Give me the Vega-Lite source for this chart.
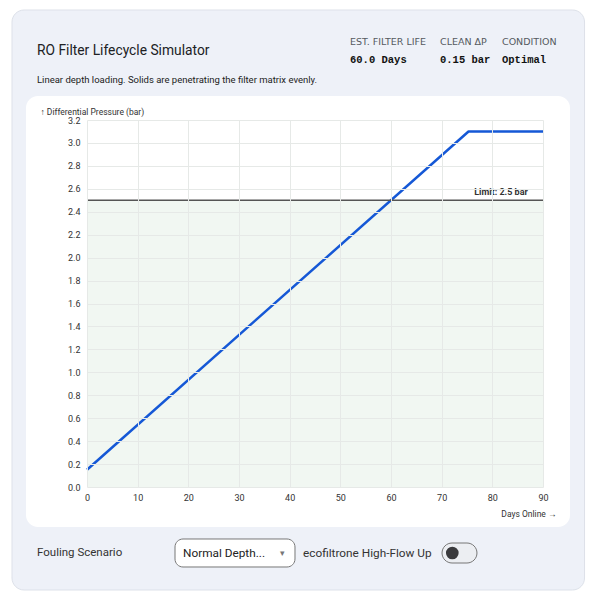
{
  "$schema": "https://vega.github.io/schema/vega-lite/v6.json",
  "width": 456,
  "height": 367,
  "autosize": {"type": "none"},
  "padding": {"left": 87, "top": 120, "right": 55, "bottom": 107},
  "background": "white",
  "data": {"values": [{}]},
  "config": {
    "view": {"stroke": null},
    "font": "Roboto",
    "axis": {
      "zindex": 1,
      "grid": true,
      "gridColor": "#e6e9e7",
      "gridWidth": 1,
      "domain": false,
      "ticks": false,
      "labelFlush": false,
      "labelFontSize": 9,
      "labelColor": "#333333",
      "labelFont": "Roboto",
      "titleFont": "Roboto",
      "titleFontWeight": "normal",
      "titleFontSize": 8.5,
      "titleColor": "#333333"
    },
    "axisX": {"labelPadding": 6, "titleX": 469, "titleY": 26, "titleAlign": "right", "titleBaseline": "middle"},
    "axisY": {"labelPadding": 7, "titleAngle": 0, "titleX": -47, "titleY": -9, "titleAlign": "left", "titleBaseline": "middle"}
  },
  "datasets": {
    "pressure": [
      {"day": 0, "dp": 0.15},
      {"day": 75.3, "dp": 3.1},
      {"day": 90, "dp": 3.1}
    ]
  },
  "layer": [
    {
      "mark": {"type": "rect", "fill": "#eef1f8", "stroke": "#dde1e9", "strokeWidth": 1, "cornerRadius": 12, "clip": false},
      "encoding": {
        "x": {"datum": -14.8, "type": "quantitative", "scale": {"domain": [0, 90], "nice": false}, "axis": {"zindex": 1, "grid": true, "labelFlush": false, "values": [0, 10, 20, 30, 40, 50, 60, 70, 80, 90], "title": "Days Online →"}},
        "x2": {"datum": 98.2},
        "y": {"datum": 4.159, "type": "quantitative", "scale": {"domain": [0, 3.2], "nice": false}, "axis": {"zindex": 1, "grid": true, "labelFlush": false, "values": [0, 0.2, 0.4, 0.6, 0.8, 1.0, 1.2, 1.4, 1.6, 1.8, 2.0, 2.2, 2.4, 2.6, 2.8, 3.0, 3.2], "format": ".1f", "title": "↑ Differential Pressure (bar)"}},
        "y2": {"datum": -0.898}
      }
    },
    {
      "mark": {"type": "rect", "fill": "white", "cornerRadius": 12, "clip": false},
      "encoding": {
        "x": {"datum": -12.04, "type": "quantitative", "scale": {"domain": [0, 90], "nice": false}, "axis": {"zindex": 1, "grid": true, "labelFlush": false, "values": [0, 10, 20, 30, 40, 50, 60, 70, 80, 90], "title": "Days Online →"}},
        "x2": {"datum": 95.33},
        "y": {"datum": 3.409, "type": "quantitative", "scale": {"domain": [0, 3.2], "nice": false}, "axis": {"zindex": 1, "grid": true, "labelFlush": false, "values": [0, 0.2, 0.4, 0.6, 0.8, 1.0, 1.2, 1.4, 1.6, 1.8, 2.0, 2.2, 2.4, 2.6, 2.8, 3.0, 3.2], "format": ".1f", "title": "↑ Differential Pressure (bar)"}},
        "y2": {"datum": -0.349}
      }
    },
    {
      "mark": {"type": "rect", "fill": "#f1f7f2"},
      "encoding": {
        "x": {"datum": 0, "type": "quantitative", "scale": {"domain": [0, 90], "nice": false}, "axis": {"zindex": 1, "grid": true, "labelFlush": false, "values": [0, 10, 20, 30, 40, 50, 60, 70, 80, 90], "title": "Days Online →"}},
        "x2": {"datum": 90},
        "y": {"datum": 0, "type": "quantitative", "scale": {"domain": [0, 3.2], "nice": false}, "axis": {"zindex": 1, "grid": true, "labelFlush": false, "values": [0, 0.2, 0.4, 0.6, 0.8, 1.0, 1.2, 1.4, 1.6, 1.8, 2.0, 2.2, 2.4, 2.6, 2.8, 3.0, 3.2], "format": ".1f", "title": "↑ Differential Pressure (bar)"}},
        "y2": {"datum": 2.5}
      }
    },
    {
      "data": {"name": "pressure"},
      "mark": {"type": "line", "color": "#1558d6", "strokeWidth": 2.5, "strokeJoin": "round"},
      "encoding": {
        "x": {"field": "day", "type": "quantitative", "scale": {"domain": [0, 90], "nice": false}, "axis": {"zindex": 1, "grid": true, "labelFlush": false, "values": [0, 10, 20, 30, 40, 50, 60, 70, 80, 90], "title": "Days Online →"}},
        "y": {"field": "dp", "type": "quantitative", "scale": {"domain": [0, 3.2], "nice": false}, "axis": {"zindex": 1, "grid": true, "labelFlush": false, "values": [0, 0.2, 0.4, 0.6, 0.8, 1.0, 1.2, 1.4, 1.6, 1.8, 2.0, 2.2, 2.4, 2.6, 2.8, 3.0, 3.2], "format": ".1f", "title": "↑ Differential Pressure (bar)"}}
      }
    },
    {
      "mark": {"type": "rule", "color": "#555555", "strokeWidth": 1.5},
      "encoding": {
        "x": {"datum": 0, "type": "quantitative", "scale": {"domain": [0, 90], "nice": false}, "axis": {"zindex": 1, "grid": true, "labelFlush": false, "values": [0, 10, 20, 30, 40, 50, 60, 70, 80, 90], "title": "Days Online →"}},
        "x2": {"datum": 90},
        "y": {"datum": 2.5, "type": "quantitative", "scale": {"domain": [0, 3.2], "nice": false}, "axis": {"zindex": 1, "grid": true, "labelFlush": false, "values": [0, 0.2, 0.4, 0.6, 0.8, 1.0, 1.2, 1.4, 1.6, 1.8, 2.0, 2.2, 2.4, 2.6, 2.8, 3.0, 3.2], "format": ".1f", "title": "↑ Differential Pressure (bar)"}}
      }
    },
    {
      "mark": {"type": "text", "text": "Limit: 2.5 bar", "align": "right", "baseline": "bottom", "dy": -3, "fontSize": 9, "fontWeight": "bold", "color": "#333333"},
      "encoding": {
        "x": {"datum": 87, "type": "quantitative", "scale": {"domain": [0, 90], "nice": false}, "axis": {"zindex": 1, "grid": true, "labelFlush": false, "values": [0, 10, 20, 30, 40, 50, 60, 70, 80, 90], "title": "Days Online →"}},
        "y": {"datum": 2.5, "type": "quantitative", "scale": {"domain": [0, 3.2], "nice": false}, "axis": {"zindex": 1, "grid": true, "labelFlush": false, "values": [0, 0.2, 0.4, 0.6, 0.8, 1.0, 1.2, 1.4, 1.6, 1.8, 2.0, 2.2, 2.4, 2.6, 2.8, 3.0, 3.2], "format": ".1f", "title": "↑ Differential Pressure (bar)"}}
      }
    },
    {
      "mark": {"type": "text", "text": "RO Filter Lifecycle Simulator", "align": "left", "baseline": "middle", "fontSize": 13.8, "color": "#202124"},
      "encoding": {
        "x": {"datum": -9.87, "type": "quantitative", "scale": {"domain": [0, 90], "nice": false}, "axis": {"zindex": 1, "grid": true, "labelFlush": false, "values": [0, 10, 20, 30, 40, 50, 60, 70, 80, 90], "title": "Days Online →"}},
        "y": {"datum": 3.80, "type": "quantitative", "scale": {"domain": [0, 3.2], "nice": false}, "axis": {"zindex": 1, "grid": true, "labelFlush": false, "values": [0, 0.2, 0.4, 0.6, 0.8, 1.0, 1.2, 1.4, 1.6, 1.8, 2.0, 2.2, 2.4, 2.6, 2.8, 3.0, 3.2], "format": ".1f", "title": "↑ Differential Pressure (bar)"}}
      }
    },
    {
      "mark": {"type": "text", "text": "Linear depth loading. Solids are penetrating the filter matrix evenly.", "align": "left", "baseline": "middle", "fontSize": 9.5, "color": "#222222"},
      "encoding": {
        "x": {"datum": -9.87, "type": "quantitative", "scale": {"domain": [0, 90], "nice": false}, "axis": {"zindex": 1, "grid": true, "labelFlush": false, "values": [0, 10, 20, 30, 40, 50, 60, 70, 80, 90], "title": "Days Online →"}},
        "y": {"datum": 3.549, "type": "quantitative", "scale": {"domain": [0, 3.2], "nice": false}, "axis": {"zindex": 1, "grid": true, "labelFlush": false, "values": [0, 0.2, 0.4, 0.6, 0.8, 1.0, 1.2, 1.4, 1.6, 1.8, 2.0, 2.2, 2.4, 2.6, 2.8, 3.0, 3.2], "format": ".1f", "title": "↑ Differential Pressure (bar)"}}
      }
    },
    {
      "mark": {"type": "text", "text": "EST. FILTER LIFE", "align": "left", "baseline": "middle", "fontSize": 9.5, "font": "DejaVu Sans", "color": "#555a60"},
      "encoding": {
        "x": {"datum": 51.91, "type": "quantitative", "scale": {"domain": [0, 90], "nice": false}, "axis": {"zindex": 1, "grid": true, "labelFlush": false, "values": [0, 10, 20, 30, 40, 50, 60, 70, 80, 90], "title": "Days Online →"}},
        "y": {"datum": 3.880, "type": "quantitative", "scale": {"domain": [0, 3.2], "nice": false}, "axis": {"zindex": 1, "grid": true, "labelFlush": false, "values": [0, 0.2, 0.4, 0.6, 0.8, 1.0, 1.2, 1.4, 1.6, 1.8, 2.0, 2.2, 2.4, 2.6, 2.8, 3.0, 3.2], "format": ".1f", "title": "↑ Differential Pressure (bar)"}}
      }
    },
    {
      "mark": {"type": "text", "text": "CLEAN ΔP", "align": "left", "baseline": "middle", "fontSize": 9.5, "font": "DejaVu Sans", "color": "#555a60"},
      "encoding": {
        "x": {"datum": 69.67, "type": "quantitative", "scale": {"domain": [0, 90], "nice": false}, "axis": {"zindex": 1, "grid": true, "labelFlush": false, "values": [0, 10, 20, 30, 40, 50, 60, 70, 80, 90], "title": "Days Online →"}},
        "y": {"datum": 3.880, "type": "quantitative", "scale": {"domain": [0, 3.2], "nice": false}, "axis": {"zindex": 1, "grid": true, "labelFlush": false, "values": [0, 0.2, 0.4, 0.6, 0.8, 1.0, 1.2, 1.4, 1.6, 1.8, 2.0, 2.2, 2.4, 2.6, 2.8, 3.0, 3.2], "format": ".1f", "title": "↑ Differential Pressure (bar)"}}
      }
    },
    {
      "mark": {"type": "text", "text": "CONDITION", "align": "left", "baseline": "middle", "fontSize": 9.5, "font": "DejaVu Sans", "color": "#555a60"},
      "encoding": {
        "x": {"datum": 81.91, "type": "quantitative", "scale": {"domain": [0, 90], "nice": false}, "axis": {"zindex": 1, "grid": true, "labelFlush": false, "values": [0, 10, 20, 30, 40, 50, 60, 70, 80, 90], "title": "Days Online →"}},
        "y": {"datum": 3.880, "type": "quantitative", "scale": {"domain": [0, 3.2], "nice": false}, "axis": {"zindex": 1, "grid": true, "labelFlush": false, "values": [0, 0.2, 0.4, 0.6, 0.8, 1.0, 1.2, 1.4, 1.6, 1.8, 2.0, 2.2, 2.4, 2.6, 2.8, 3.0, 3.2], "format": ".1f", "title": "↑ Differential Pressure (bar)"}}
      }
    },
    {
      "mark": {"type": "text", "text": "60.0 Days", "align": "left", "baseline": "middle", "fontSize": 10.5, "font": "Liberation Mono", "fontWeight": "bold", "color": "#111111"},
      "encoding": {
        "x": {"datum": 51.91, "type": "quantitative", "scale": {"domain": [0, 90], "nice": false}, "axis": {"zindex": 1, "grid": true, "labelFlush": false, "values": [0, 10, 20, 30, 40, 50, 60, 70, 80, 90], "title": "Days Online →"}},
        "y": {"datum": 3.723, "type": "quantitative", "scale": {"domain": [0, 3.2], "nice": false}, "axis": {"zindex": 1, "grid": true, "labelFlush": false, "values": [0, 0.2, 0.4, 0.6, 0.8, 1.0, 1.2, 1.4, 1.6, 1.8, 2.0, 2.2, 2.4, 2.6, 2.8, 3.0, 3.2], "format": ".1f", "title": "↑ Differential Pressure (bar)"}}
      }
    },
    {
      "mark": {"type": "text", "text": "0.15 bar", "align": "left", "baseline": "middle", "fontSize": 10.5, "font": "Liberation Mono", "fontWeight": "bold", "color": "#111111"},
      "encoding": {
        "x": {"datum": 69.67, "type": "quantitative", "scale": {"domain": [0, 90], "nice": false}, "axis": {"zindex": 1, "grid": true, "labelFlush": false, "values": [0, 10, 20, 30, 40, 50, 60, 70, 80, 90], "title": "Days Online →"}},
        "y": {"datum": 3.723, "type": "quantitative", "scale": {"domain": [0, 3.2], "nice": false}, "axis": {"zindex": 1, "grid": true, "labelFlush": false, "values": [0, 0.2, 0.4, 0.6, 0.8, 1.0, 1.2, 1.4, 1.6, 1.8, 2.0, 2.2, 2.4, 2.6, 2.8, 3.0, 3.2], "format": ".1f", "title": "↑ Differential Pressure (bar)"}}
      }
    },
    {
      "mark": {"type": "text", "text": "Optimal", "align": "left", "baseline": "middle", "fontSize": 10.5, "font": "Liberation Mono", "fontWeight": "bold", "color": "#111111"},
      "encoding": {
        "x": {"datum": 81.91, "type": "quantitative", "scale": {"domain": [0, 90], "nice": false}, "axis": {"zindex": 1, "grid": true, "labelFlush": false, "values": [0, 10, 20, 30, 40, 50, 60, 70, 80, 90], "title": "Days Online →"}},
        "y": {"datum": 3.723, "type": "quantitative", "scale": {"domain": [0, 3.2], "nice": false}, "axis": {"zindex": 1, "grid": true, "labelFlush": false, "values": [0, 0.2, 0.4, 0.6, 0.8, 1.0, 1.2, 1.4, 1.6, 1.8, 2.0, 2.2, 2.4, 2.6, 2.8, 3.0, 3.2], "format": ".1f", "title": "↑ Differential Pressure (bar)"}}
      }
    },
    {
      "mark": {"type": "text", "text": "Fouling Scenario", "align": "left", "baseline": "middle", "fontSize": 11.5, "color": "#333333"},
      "encoding": {
        "x": {"datum": -9.87, "type": "quantitative", "scale": {"domain": [0, 90], "nice": false}, "axis": {"zindex": 1, "grid": true, "labelFlush": false, "values": [0, 10, 20, 30, 40, 50, 60, 70, 80, 90], "title": "Days Online →"}},
        "y": {"datum": -0.5755, "type": "quantitative", "scale": {"domain": [0, 3.2], "nice": false}, "axis": {"zindex": 1, "grid": true, "labelFlush": false, "values": [0, 0.2, 0.4, 0.6, 0.8, 1.0, 1.2, 1.4, 1.6, 1.8, 2.0, 2.2, 2.4, 2.6, 2.8, 3.0, 3.2], "format": ".1f", "title": "↑ Differential Pressure (bar)"}}
      }
    },
    {
      "mark": {"type": "rect", "fill": "white", "stroke": "#777777", "strokeWidth": 1, "cornerRadius": 8},
      "encoding": {
        "x": {"datum": 17.37, "type": "quantitative", "scale": {"domain": [0, 90], "nice": false}, "axis": {"zindex": 1, "grid": true, "labelFlush": false, "values": [0, 10, 20, 30, 40, 50, 60, 70, 80, 90], "title": "Days Online →"}},
        "x2": {"datum": 41.05},
        "y": {"datum": -0.4534, "type": "quantitative", "scale": {"domain": [0, 3.2], "nice": false}, "axis": {"zindex": 1, "grid": true, "labelFlush": false, "values": [0, 0.2, 0.4, 0.6, 0.8, 1.0, 1.2, 1.4, 1.6, 1.8, 2.0, 2.2, 2.4, 2.6, 2.8, 3.0, 3.2], "format": ".1f", "title": "↑ Differential Pressure (bar)"}},
        "y2": {"datum": -0.6975}
      }
    },
    {
      "mark": {"type": "text", "text": "Normal Depth...", "align": "left", "baseline": "middle", "fontSize": 11.8, "color": "#222222"},
      "encoding": {
        "x": {"datum": 18.95, "type": "quantitative", "scale": {"domain": [0, 90], "nice": false}, "axis": {"zindex": 1, "grid": true, "labelFlush": false, "values": [0, 10, 20, 30, 40, 50, 60, 70, 80, 90], "title": "Days Online →"}},
        "y": {"datum": -0.5755, "type": "quantitative", "scale": {"domain": [0, 3.2], "nice": false}, "axis": {"zindex": 1, "grid": true, "labelFlush": false, "values": [0, 0.2, 0.4, 0.6, 0.8, 1.0, 1.2, 1.4, 1.6, 1.8, 2.0, 2.2, 2.4, 2.6, 2.8, 3.0, 3.2], "format": ".1f", "title": "↑ Differential Pressure (bar)"}}
      }
    },
    {
      "mark": {"type": "text", "text": "▾", "align": "center", "baseline": "middle", "fontSize": 9, "color": "#777777"},
      "encoding": {
        "x": {"datum": 38.68, "type": "quantitative", "scale": {"domain": [0, 90], "nice": false}, "axis": {"zindex": 1, "grid": true, "labelFlush": false, "values": [0, 10, 20, 30, 40, 50, 60, 70, 80, 90], "title": "Days Online →"}},
        "y": {"datum": -0.5755, "type": "quantitative", "scale": {"domain": [0, 3.2], "nice": false}, "axis": {"zindex": 1, "grid": true, "labelFlush": false, "values": [0, 0.2, 0.4, 0.6, 0.8, 1.0, 1.2, 1.4, 1.6, 1.8, 2.0, 2.2, 2.4, 2.6, 2.8, 3.0, 3.2], "format": ".1f", "title": "↑ Differential Pressure (bar)"}}
      }
    },
    {
      "mark": {"type": "text", "text": "ecofiltrone High-Flow Up", "align": "left", "baseline": "middle", "fontSize": 11.8, "color": "#333333"},
      "encoding": {
        "x": {"datum": 42.63, "type": "quantitative", "scale": {"domain": [0, 90], "nice": false}, "axis": {"zindex": 1, "grid": true, "labelFlush": false, "values": [0, 10, 20, 30, 40, 50, 60, 70, 80, 90], "title": "Days Online →"}},
        "y": {"datum": -0.5755, "type": "quantitative", "scale": {"domain": [0, 3.2], "nice": false}, "axis": {"zindex": 1, "grid": true, "labelFlush": false, "values": [0, 0.2, 0.4, 0.6, 0.8, 1.0, 1.2, 1.4, 1.6, 1.8, 2.0, 2.2, 2.4, 2.6, 2.8, 3.0, 3.2], "format": ".1f", "title": "↑ Differential Pressure (bar)"}}
      }
    },
    {
      "mark": {"type": "rect", "fill": "#eceef2", "stroke": "#777777", "strokeWidth": 1, "cornerRadius": 10},
      "encoding": {
        "x": {"datum": 70.07, "type": "quantitative", "scale": {"domain": [0, 90], "nice": false}, "axis": {"zindex": 1, "grid": true, "labelFlush": false, "values": [0, 10, 20, 30, 40, 50, 60, 70, 80, 90], "title": "Days Online →"}},
        "x2": {"datum": 76.97},
        "y": {"datum": -0.4883, "type": "quantitative", "scale": {"domain": [0, 3.2], "nice": false}, "axis": {"zindex": 1, "grid": true, "labelFlush": false, "values": [0, 0.2, 0.4, 0.6, 0.8, 1.0, 1.2, 1.4, 1.6, 1.8, 2.0, 2.2, 2.4, 2.6, 2.8, 3.0, 3.2], "format": ".1f", "title": "↑ Differential Pressure (bar)"}},
        "y2": {"datum": -0.6627}
      }
    },
    {
      "mark": {"type": "point", "shape": "circle", "filled": true, "size": 160, "color": "#3a3a3d", "opacity": 1},
      "encoding": {
        "x": {"datum": 72.1, "type": "quantitative", "scale": {"domain": [0, 90], "nice": false}, "axis": {"zindex": 1, "grid": true, "labelFlush": false, "values": [0, 10, 20, 30, 40, 50, 60, 70, 80, 90], "title": "Days Online →"}},
        "y": {"datum": -0.5755, "type": "quantitative", "scale": {"domain": [0, 3.2], "nice": false}, "axis": {"zindex": 1, "grid": true, "labelFlush": false, "values": [0, 0.2, 0.4, 0.6, 0.8, 1.0, 1.2, 1.4, 1.6, 1.8, 2.0, 2.2, 2.4, 2.6, 2.8, 3.0, 3.2], "format": ".1f", "title": "↑ Differential Pressure (bar)"}}
      }
    }
  ]
}
